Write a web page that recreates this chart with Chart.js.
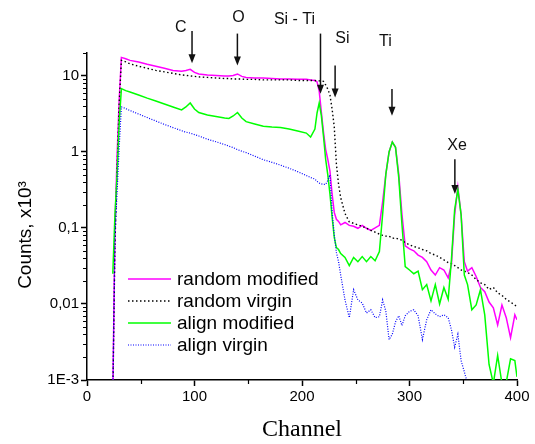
<!DOCTYPE html>
<html>
<head>
<meta charset="utf-8">
<title>Channel spectra</title>
<script src="https://cdn.jsdelivr.net/npm/chart.js@4.4.0/dist/chart.umd.min.js"></script>
<style>
  html, body { margin: 0; padding: 0; background: #fff; }
</style>
</head>
<body>
<canvas id="chart" width="535" height="444"></canvas>
<script>
// Channel grid shared by all four spectra
const channels = [
  24, 26, 28, 30, 32, 36, 40, 48, 56, 64,
  72, 80, 88, 92, 96, 100, 104, 112, 120, 128,
  132, 136, 140, 144, 148, 156, 164, 172, 180, 188,
  196, 204, 208, 212, 214, 216, 218, 220, 222, 224,
  226, 228, 230, 232, 234, 236, 240, 244, 248, 252,
  256, 260, 264, 268, 272, 275, 278, 281, 284, 287,
  290, 293, 296, 300, 304, 308, 312, 316, 320, 324,
  328, 332, 336, 339, 342, 345, 348, 351, 354, 358,
  362, 366, 370, 374, 378, 382, 386, 390, 394, 398,
  400
];

// Counts, x10^3
const randomModified = [
  0.0006, 0.1, 0.9, 5, 17.5, 16.8, 16, 15.2, 14.2, 13.4,
  12.6, 11.8, 11.5, 11.8, 12.2, 11.1, 10.6, 10.3, 10.15, 10.0,
  10.0, 10.15, 10.6, 9.85, 9.55, 9.4, 9.4, 9.25, 9.1, 9.1,
  9.0, 9.0, 8.85, 8.7, 8.33, 6.3, 3.35, 1.82, 1.08, 0.8,
  0.56, 0.28, 0.16, 0.13, 0.122, 0.11, 0.118, 0.108, 0.105, 0.099,
  0.108, 0.099, 0.093, 0.1, 0.108, 0.22, 0.51, 1.0, 1.35, 1.15,
  0.51, 0.15, 0.058, 0.053, 0.05, 0.044, 0.041, 0.036, 0.028, 0.024,
  0.03, 0.028, 0.022, 0.033, 0.15, 0.343, 0.15, 0.036, 0.027, 0.03,
  0.023, 0.0165, 0.0145, 0.0106, 0.0089, 0.0053, 0.0097, 0.0066, 0.0036, 0.0072,
  0.0062
];

const randomVirgin = [
  0.0006, 0.06, 0.6, 4.5, 16, 15.3, 14.4, 13.4, 12.6, 11.8,
  11.3, 10.8, 10.3, 10.15, 10.0, 9.85, 9.7, 9.55, 9.4, 9.25,
  9.25, 9.1, 9.1, 9.1, 9.0, 9.0, 8.85, 8.85, 8.85, 8.85,
  8.7, 8.7, 8.7, 8.7, 8.6, 8.6, 8.6, 8.45, 7.6, 6.7,
  5.6, 3.67, 2.13, 0.69, 0.375, 0.25, 0.155, 0.12, 0.115, 0.11,
  0.105, 0.099, 0.093, 0.088, 0.083, 0.08, 0.078, 0.078, 0.073, 0.074,
  0.071, 0.069, 0.064, 0.06, 0.057, 0.055, 0.052, 0.05, 0.046, 0.044,
  0.041, 0.038, 0.035, 0.034, 0.032, 0.03, 0.028, 0.027, 0.026, 0.024,
  0.021, 0.019, 0.018, 0.0155, 0.0165, 0.014, 0.013, 0.0115, 0.0106, 0.0097,
  0.0092
];

const alignModified = [
  0.025, 0.15, 0.5, 2.5, 6.8, 6.4, 6.15, 5.6, 5.1, 4.68,
  4.27, 3.9, 3.56, 3.9, 4.4, 3.67, 3.3, 3.06, 2.92, 2.79,
  2.75, 2.97, 3.3, 2.79, 2.5, 2.33, 2.18, 2.12, 2.09, 2.0,
  1.88, 1.77, 1.57, 2.0, 3.25, 4.4, 3.0, 1.6, 0.8, 0.5,
  0.28, 0.14, 0.075, 0.055, 0.052, 0.046, 0.041, 0.032, 0.041, 0.036,
  0.042, 0.036, 0.042, 0.037, 0.049, 0.15, 0.51, 1.0, 1.35, 1.15,
  0.46, 0.11, 0.031, 0.028, 0.025, 0.027, 0.0154, 0.018, 0.011, 0.018,
  0.01, 0.0165, 0.0115, 0.038, 0.175, 0.32, 0.15, 0.024, 0.018, 0.0084,
  0.0097, 0.0154, 0.0072, 0.0016, 0.0009, 0.0021, 0.0009, 0.00093, 0.0019, 0.0018,
  0.0011
];

const alignVirgin = [
  0.0006, 0.08, 0.3, 1.2, 3.9, 3.72, 3.5, 3.15, 2.83, 2.55,
  2.3, 2.09, 1.9, 1.82, 1.77, 1.69, 1.62, 1.47, 1.36, 1.25,
  1.19, 1.14, 1.07, 1.02, 0.98, 0.88, 0.79, 0.73, 0.67, 0.61,
  0.55, 0.49, 0.46, 0.44, 0.41, 0.39, 0.38, 0.375, 0.375, 0.42,
  0.5, 0.165, 0.082, 0.0475, 0.036, 0.024, 0.0113, 0.0066, 0.0154, 0.0113,
  0.0103, 0.0076, 0.0084, 0.0066, 0.0068, 0.0113, 0.008, 0.0034, 0.004, 0.0058,
  0.007, 0.0052, 0.007, 0.008, 0.0084, 0.007, 0.0034, 0.0062, 0.0084, 0.0074,
  0.0068, 0.0072, 0.0066, 0.0046, 0.0027, 0.004, 0.0018, 0.00128, 0.0009, 0.0006,
  null, null, null, null, null, null, null, null, null, null,
  null
];

const seriesLabels = ['random modified', 'random virgin', 'align modified', 'align virgin'];

// Axes
const xTickValues = [0, 100, 200, 300, 400];
const xMinorValues = [50, 150, 250, 350];
const yTickValues = [0.001, 0.01, 0.1, 1, 10];
const yTickLabels = ['1E-3', '0,01', '0,1', '1', '10'];
const yTitleText = 'Counts, x10\u00B3';
const xTitleText = 'Channel';

// Peak markers (channel / counts)
const peakLabels = ['C', 'O', 'Si - Ti', 'Si', 'Ti', 'Xe'];
const arrowChannels = [97.7, 139.9, 217.2, 230.8, 283.7, 342.2];
const arrowTips = [14.7, 13.7, 5.8, 5.2, 3.0, 0.28];
const arrowTails = [39, 36, 36, 13.7, 6.7, 0.8];
const labelChannels = [87.2, 141, 193, 237.6, 277.5, 344.3];
const labelValues = [43, 58, 55, 31, 28.5, 1.22];

const SANS = '"Liberation Sans", Arial, sans-serif';

function toPoints(values) {
  return channels.map((c, i) => ({ x: c, y: values[i] }));
}

// small minor tick marks on both axes
const minorTicks = {
  id: 'minorTicks',
  afterDraw(chart) {
    const { ctx, chartArea, scales: { x, y } } = chart;
    ctx.save();
    ctx.strokeStyle = '#000';
    ctx.lineWidth = 1.2;
    ctx.beginPath();
    yTickValues.forEach(d => {
      for (let k = 2; k <= 9; k++) {
        const v = k * d;
        if (v > y.max) continue;
        const py = Math.round(y.getPixelForValue(v)) + 0.5;
        ctx.moveTo(chartArea.left - 4, py);
        ctx.lineTo(chartArea.left, py);
      }
    });
    xMinorValues.forEach(v => {
      const px = Math.round(x.getPixelForValue(v)) + 0.5;
      ctx.moveTo(px, chartArea.bottom);
      ctx.lineTo(px, chartArea.bottom + 4);
    });
    ctx.stroke();
    ctx.restore();
  }
};

// arrows and element names above the peaks
const peakArrows = {
  id: 'peakArrows',
  afterDatasetsDraw(chart) {
    const { ctx, scales: { x, y } } = chart;
    ctx.save();
    ctx.strokeStyle = '#111';
    ctx.fillStyle = '#111';
    ctx.lineWidth = 1.5;
    peakLabels.forEach((label, i) => {
      const px = x.getPixelForValue(arrowChannels[i]);
      const yTail = y.getPixelForValue(arrowTails[i]);
      const yTip = y.getPixelForValue(arrowTips[i]);
      ctx.beginPath();
      ctx.moveTo(px, yTail);
      ctx.lineTo(px, yTip - 6);
      ctx.stroke();
      ctx.beginPath();
      ctx.moveTo(px - 3.5, yTip - 9);
      ctx.lineTo(px + 3.5, yTip - 9);
      ctx.lineTo(px, yTip);
      ctx.closePath();
      ctx.fill();
      ctx.font = '16px ' + SANS;
      ctx.textAlign = 'center';
      ctx.textBaseline = 'middle';
      ctx.fillText(label, x.getPixelForValue(labelChannels[i]), y.getPixelForValue(labelValues[i]));
    });
    ctx.restore();
  }
};

// legend sitting inside the plot, lower left
const insideLegend = {
  id: 'insideLegend',
  afterDraw(chart) {
    const { ctx, chartArea } = chart;
    const x0 = chartArea.left + 41;
    const x1 = x0 + 43;
    const top = chartArea.top + 226;
    const rowGap = 22;
    chart.data.datasets.forEach((ds, i) => {
      const yy = top + i * rowGap;
      ctx.save();
      ctx.strokeStyle = ds.borderColor;
      ctx.lineWidth = ds.borderWidth;
      ctx.setLineDash(ds.borderDash || []);
      ctx.beginPath();
      ctx.moveTo(x0, yy);
      ctx.lineTo(x1, yy);
      ctx.stroke();
      ctx.restore();
      ctx.save();
      ctx.fillStyle = '#000';
      ctx.font = '19px ' + SANS;
      ctx.textAlign = 'left';
      ctx.textBaseline = 'middle';
      ctx.fillText(ds.label, x1 + 6, yy + 1);
      ctx.restore();
    });
  }
};

// rotated y title, a bit below the axis middle as in the original
const yTitle = {
  id: 'yTitle',
  afterDraw(chart) {
    const { ctx, chartArea } = chart;
    ctx.save();
    ctx.translate(26, chartArea.top + 182);
    ctx.rotate(-Math.PI / 2);
    ctx.fillStyle = '#000';
    ctx.font = '19px ' + SANS;
    ctx.textAlign = 'center';
    ctx.textBaseline = 'middle';
    ctx.fillText(yTitleText, 0, 0);
    ctx.restore();
  }
};

const ctx = document.getElementById('chart').getContext('2d');

new Chart(ctx, {
  type: 'line',
  data: {
    datasets: [
      {
        label: seriesLabels[0],
        data: toPoints(randomModified),
        borderColor: '#ff00ff',
        borderWidth: 1.5,
        order: 4
      },
      {
        label: seriesLabels[1],
        data: toPoints(randomVirgin),
        borderColor: '#000000',
        borderWidth: 1.4,
        borderDash: [1.5, 2.5],
        order: 3
      },
      {
        label: seriesLabels[2],
        data: toPoints(alignModified),
        borderColor: '#00ff00',
        borderWidth: 1.5,
        order: 2
      },
      {
        label: seriesLabels[3],
        data: toPoints(alignVirgin),
        borderColor: '#0000ff',
        borderWidth: 1.2,
        borderDash: [1, 1.5],
        order: 1
      }
    ]
  },
  options: {
    responsive: false,
    devicePixelRatio: 1,
    animation: false,
    layout: { padding: { top: 53, right: 18, left: 0, bottom: 0 } },
    elements: {
      point: { radius: 0 },
      line: { tension: 0, fill: false }
    },
    plugins: {
      legend: { display: false },
      tooltip: { enabled: false }
    },
    scales: {
      x: {
        type: 'linear',
        min: 0,
        max: 400,
        afterBuildTicks: scale => { scale.ticks = xTickValues.map(v => ({ value: v })); },
        afterFit: scale => { scale.height = 64; },
        border: { display: true, color: '#000', width: 1.5 },
        grid: { drawOnChartArea: false, drawTicks: true, tickLength: 6, tickColor: '#000', tickWidth: 1.5 },
        ticks: {
          color: '#000',
          padding: 2,
          maxRotation: 0,
          font: { family: SANS, size: 15 }
        },
        title: {
          display: true,
          text: xTitleText,
          color: '#000',
          padding: { top: 0, bottom: 0 },
          font: { family: '"Liberation Serif", "Times New Roman", serif', size: 24 }
        }
      },
      y: {
        type: 'logarithmic',
        min: 0.001,
        max: 20,
        afterBuildTicks: scale => { scale.ticks = yTickValues.map(v => ({ value: v })); },
        afterFit: scale => { scale.width = 87; },
        border: { display: true, color: '#000', width: 1.5 },
        grid: { drawOnChartArea: false, drawTicks: true, tickLength: 6, tickColor: '#000', tickWidth: 1.5 },
        ticks: {
          color: '#000',
          padding: 2,
          font: { family: SANS, size: 15 },
          callback: (value, index) => yTickLabels[index]
        }
      }
    }
  },
  plugins: [minorTicks, peakArrows, insideLegend, yTitle]
});
</script>
</body>
</html>
